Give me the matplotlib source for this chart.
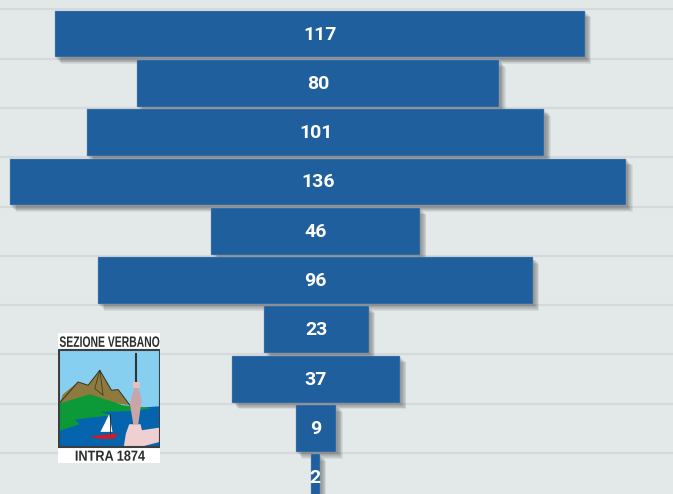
import matplotlib
matplotlib.use('Agg')
import matplotlib.pyplot as plt
import matplotlib.patheffects as pe
from matplotlib.font_manager import FontProperties
from matplotlib.patches import PathPatch, Polygon, Rectangle
from matplotlib.textpath import TextPath
from matplotlib.transforms import Affine2D

# Funnel values, top to bottom, with the invisible spacer in front of each bar
values = [117, 80, 101, 136, 46, 96, 23, 37, 9, 2]
spacers = [9.9, 28, 17, 0, 44.5, 19.4, 56.2, 49.1, 63.1, 66.4]
labels = [str(v) for v in values]

BG = '#E3E9E9'
BLUE = '#1F5F9D'
GRID = '#D6D9DB'

plt.rcParams['font.family'] = ['Roboto', 'DejaVu Sans']

fig = plt.figure(figsize=(6.73, 4.94), dpi=100, facecolor=BG)
ax = fig.add_axes([0, 0, 1, 1], facecolor=BG)

positions = list(range(len(values)))
ax.set_xlim(-9.8 / 4.53, 663.2 / 4.53)
ax.set_ylim(9.33, -0.69)

# grid lines sit between the categories
ax.set_yticks([p - 0.5 for p in positions])
ax.grid(True, axis='y', color=GRID, linewidth=1.6)
ax.set_axisbelow(True)
ax.tick_params(left=False, bottom=False, labelleft=False, labelbottom=False)
for s in ax.spines.values():
    s.set_visible(False)

# soft shadow to the lower right, built up from a few offset copies
shadow = [pe.SimplePatchShadow(offset=(o, -o), shadow_rgbFace='#444444', alpha=0.09)
          for o in (4.8, 4.2, 3.6, 3.0, 2.4, 1.8, 1.2)]

bars = ax.barh(positions, values, left=spacers, height=0.95, color=BLUE,
               edgecolor='#7F9DB9', linewidth=0.3)
for b in bars:
    b.set_path_effects(shadow + [pe.Normal()])

for p, v, sp, lab in zip(positions, values, spacers, labels):
    ax.text(sp + v / 2, p + 0.01, lab, color='white', fontsize=14, fontweight='bold',
            ha='center', va='center', zorder=5)

# Section logo, drawn in its own small axes
logo = fig.add_axes([58 / 673, 1 - 463.5 / 494, 102 / 673, 130.5 / 494])
logo.set_xlim(55, 360)
logo.set_ylim(430, 38)
logo.axis('off')


def poly(pts, color, z=2):
    logo.add_patch(Polygon(pts, closed=True, facecolor=color, edgecolor='none', zorder=z))


# squeezes a string into a given box of the logo, like the condensed lettering
def fit_text(txt, x0, x1, y0, y1):
    tp = TextPath((0, 0), txt, size=10, prop=FontProperties(family='Liberation Sans', weight='bold'))
    bb = tp.get_extents()
    tr = (Affine2D().translate(-bb.x0, -bb.y0).scale((x1 - x0) / bb.width, -(y1 - y0) / bb.height)
          .translate(x0, y1))
    logo.add_patch(PathPatch(tp, transform=tr + logo.transData, facecolor='#2A2C2E', edgecolor='none', zorder=7))


logo.add_patch(Rectangle((55, 38), 305, 392, facecolor='white', edgecolor='none', zorder=0))
logo.add_patch(Rectangle((58, 90), 302, 290, facecolor='#86CFF0', edgecolor='none', zorder=1))
# lake
poly([(58, 290), (200, 270), (360, 258), (360, 380), (58, 380)], '#0564AE')
# mountains
poly([(60, 248), (70, 222), (115, 185), (145, 195), (180, 150), (215, 210), (235, 208),
      (270, 255), (200, 245), (60, 250)], '#8E7A3F')
logo.plot([60, 115, 145, 180, 215, 235, 270], [248, 185, 195, 150, 210, 208, 255], color='#333322', lw=0.7, zorder=3)
logo.plot([180, 165, 190, 180], [150, 205, 225, 150], color='#333322', lw=0.5, zorder=3)
# green shore
poly([(58, 250), (150, 222), (250, 255), (335, 264), (290, 272), (180, 275), (215, 285),
      (105, 298), (120, 312), (58, 332)], '#0B9A37', 3)
# boat
poly([(208, 282), (218, 335), (182, 335)], 'white', 4)
poly([(150, 348), (235, 340), (222, 356), (180, 356)], '#D31A22', 4)
logo.plot([210, 210], [280, 338], color='#222222', lw=0.6, zorder=5)
# tower and base
logo.plot([289, 289], [100, 185], color='#333333', lw=1.5, zorder=4)
poly([(278, 184), (301, 184), (301, 204), (278, 204)], '#E7BFC0', 5)
poly([(270, 250), (283, 204), (296, 204), (305, 240), (295, 312), (280, 312)], '#C9A5A8', 5)
poly([(268, 312), (302, 312), (306, 330), (360, 322), (360, 365), (310, 378), (252, 378),
      (258, 340)], '#EFCFCF', 5)
# frame
logo.add_patch(Rectangle((58, 90), 302, 290, facecolor='none', edgecolor='#3C3F42', linewidth=1.5, zorder=6))

fit_text('SEZIONE VERBANO', 60, 358, 48, 80)
fit_text('INTRA 1874', 108, 315, 391, 422)

fig.savefig('out.png', dpi=100, facecolor=BG)
